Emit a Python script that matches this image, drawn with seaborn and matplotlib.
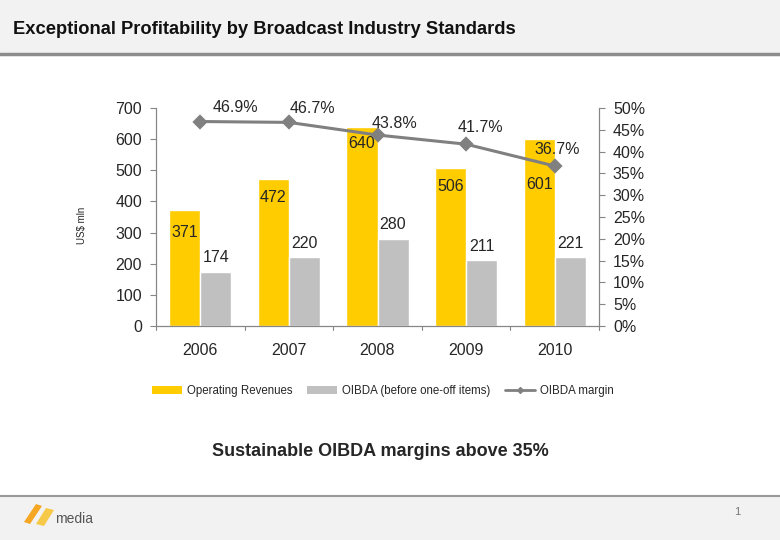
import matplotlib
matplotlib.use("Agg")
import matplotlib.pyplot as plt
import seaborn as sns
import pandas as pd
from matplotlib.patches import Rectangle, Patch, Polygon
from matplotlib.lines import Line2D
from matplotlib.ticker import PercentFormatter

# Data
years = ["2006", "2007", "2008", "2009", "2010"]
revenues = [371, 472, 640, 506, 601]
oibda = [174, 220, 280, 211, 221]
margin = [46.9, 46.7, 43.8, 41.7, 36.7]

rev_label = "Operating Revenues"
oibda_label = "OIBDA (before one-off items)"
margin_label = "OIBDA margin"

YELLOW = "#FFCC00"
GREY = "#C0C0C0"
LINE = "#808080"
AXIS = "#868686"

sns.set_style("white")
plt.rcParams["font.family"] = ["Liberation Sans", "DejaVu Sans"]

bars = pd.DataFrame({
    "Year": years * 2,
    "Value": revenues + oibda,
    "Series": [rev_label] * len(years) + [oibda_label] * len(years),
})
line_df = pd.DataFrame({"Year": years, "Margin": margin})

fig = plt.figure(figsize=(7.8, 5.4), dpi=100)

# slide header / footer bands
fig.patches.append(Rectangle((0, 1 - 54 / 540), 1, 54 / 540, transform=fig.transFigure,
                             facecolor="#f2f2f2", edgecolor="none", zorder=0))
fig.lines.append(Line2D([0, 1], [1 - 54 / 540] * 2, transform=fig.transFigure,
                        color="#8c8c8c", lw=2.5))
fig.patches.append(Rectangle((0, 0), 1, 1 - 497 / 540, transform=fig.transFigure,
                             facecolor="#f2f2f2", edgecolor="none", zorder=0))
fig.lines.append(Line2D([0, 1], [1 - 496 / 540] * 2, transform=fig.transFigure,
                        color="#9a9a9a", lw=1.5))

fig.text(13 / 780, 1 - 30 / 540, "Exceptional Profitability by Broadcast Industry Standards",
         fontsize=13.2, fontweight="bold", va="center", ha="left", color="#111111")

ax = fig.add_axes([156 / 780, 1 - 326 / 540, (599 - 156) / 780, (326 - 108) / 540])
sns.barplot(data=bars, x="Year", y="Value", hue="Series", ax=ax,
            palette={rev_label: YELLOW, oibda_label: GREY},
            width=0.7, gap=0, saturation=1, legend=False)
ax.set_ylim(0, 700)
ax.set_yticks(range(0, 701, 100))
ax.set_xlabel("")
ax.set_ylabel("US$ mln", fontsize=7)
ax.yaxis.set_label_coords(-0.156, 0.463)
ax.tick_params(axis="both", labelsize=11.5, length=4, color=AXIS, direction="out")
ax.tick_params(axis="x", length=0, pad=12)
ax.tick_params(axis="y", pad=6)
ax.spines["top"].set_visible(False)
for s in ["left", "bottom", "right"]:
    ax.spines[s].set_color(AXIS)

# category boundary ticks on the x axis
for b in range(len(years) + 1):
    ax.plot([b - 0.5, b - 0.5], [0, -0.018], transform=ax.get_xaxis_transform(),
            color=AXIS, lw=0.8, clip_on=False)

# label offsets (points) as placed on the slide
rev_dy = [-16, -13, -12, -13, -33]
for i, p in enumerate(ax.patches[:2 * len(years)]):
    h = p.get_height()
    cx = p.get_x() + p.get_width() / 2
    if i < len(years):
        ax.annotate(f"{h:.0f}", (cx, h), xytext=(0, rev_dy[i]), textcoords="offset points",
                    ha="center", va="center", fontsize=11.5)
    else:
        ax.annotate(f"{h:.0f}", (cx, h), xytext=(0, 10), textcoords="offset points",
                    ha="center", va="center", fontsize=11.5)

ax2 = ax.twinx()
sns.pointplot(data=line_df, x="Year", y="Margin", ax=ax2, color=LINE,
              markers="D", markersize=6, linewidth=2.2)
ax2.set_ylim(0, 50)
ax2.set_yticks(range(0, 51, 5))
ax2.yaxis.set_major_formatter(PercentFormatter(decimals=0))
ax2.set_ylabel("")
ax2.set_xlabel("")
ax2.tick_params(axis="y", labelsize=11.5, length=4, color=AXIS, pad=6)
ax2.spines["top"].set_visible(False)
for s in ["left", "bottom", "right"]:
    ax2.spines[s].set_color(AXIS)
ax2.set_xlim(-0.5, len(years) - 0.5)

margin_dx = [25, 17, 12, 10, 2]
margin_dy = [10, 10, 8, 12, 12]
for i, m in enumerate(margin):
    ax2.annotate(f"{m:.1f}%", (i, m), xytext=(margin_dx[i], margin_dy[i]),
                 textcoords="offset points", ha="center", va="center", fontsize=11.5)

handles = [
    Patch(facecolor=YELLOW, edgecolor="none", label=rev_label),
    Patch(facecolor=GREY, edgecolor="none", label=oibda_label),
    Line2D([], [], color=LINE, lw=2, marker="D", markersize=3, label=margin_label),
]
fig.legend(handles=handles, loc="center", bbox_to_anchor=(383 / 780, 1 - 391 / 540),
           ncol=3, frameon=False, fontsize=8.3, handlelength=2.6, handleheight=0.6,
           columnspacing=1.3, handletextpad=0.4)

fig.text(380 / 780, 1 - 452 / 540, "Sustainable OIBDA margins above 35%",
         fontsize=13, fontweight="bold", ha="center", va="center")

# footer logo and page number
fig.patches.append(Polygon([(24 / 780, 1 - 522 / 540), (36 / 780, 1 - 504 / 540),
                            (42 / 780, 1 - 506 / 540), (30 / 780, 1 - 524 / 540)],
                           closed=True, transform=fig.transFigure,
                           facecolor="#f5a623", edgecolor="none"))
fig.patches.append(Polygon([(36 / 780, 1 - 524 / 540), (46 / 780, 1 - 508 / 540),
                            (54 / 780, 1 - 510 / 540), (44 / 780, 1 - 526 / 540)],
                           closed=True, transform=fig.transFigure,
                           facecolor="#f7c948", edgecolor="none"))
fig.text(55 / 780, 1 - 519 / 540, "media", fontsize=10, color="#555555",
         ha="left", va="center")
fig.text(737 / 780, 1 - 512 / 540, "1", fontsize=8, color="#777777",
         ha="center", va="center")

fig.savefig("out.png", dpi=100)
